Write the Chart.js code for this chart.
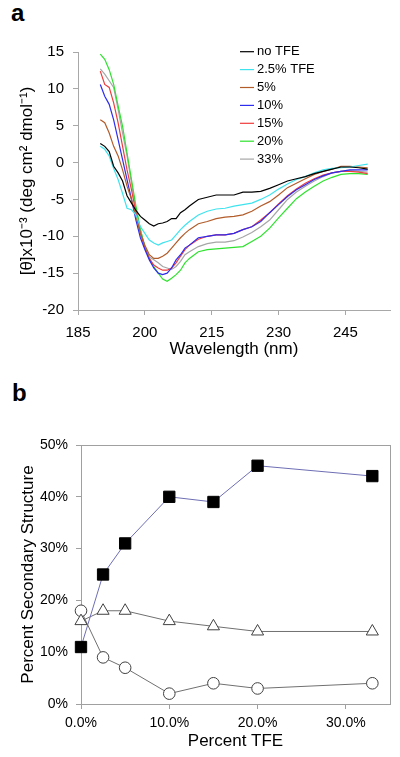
<!DOCTYPE html>
<html><head><meta charset="utf-8">
<script src="https://cdn.jsdelivr.net/npm/chart.js@4/dist/chart.umd.min.js"></script>
<style>
html,body{margin:0;padding:0;background:#fff;width:400px;height:757px;overflow:hidden;position:relative;font-family:"Liberation Sans",Arial,sans-serif;}
.lbl{position:absolute;font-weight:bold;font-size:24px;line-height:1;color:#000;}
#ca{position:absolute;left:0;top:0;}
#cb{position:absolute;left:0;top:380px;}
</style></head><body>
<div class="lbl" style="left:11px;top:1px">a</div>
<div class="lbl" style="left:12px;top:381px">b</div>
<canvas id="ca" width="400" height="380"></canvas>
<canvas id="cb" width="400" height="377"></canvas>
<script>
// ---------- Panel a data: CD spectra ----------
const wavelengths = [190,191,192,193,194,195,196,197,198,199,200,201,202,203,204,205,206,207,208,209,210,
  212,214,216,218,220,222,224,226,228,230,232,234,236,238,240,242,244,246,248,250];
const noTFE = [2.6,2.2,1.5,-0.5,-1.4,-2.5,-4.5,-5.5,-6.5,-7.3,-7.8,-8.3,-8.6,-8.3,-8.2,-8.0,-7.6,-7.6,-6.8,-6.4,-5.9,
  -5.0,-4.7,-4.4,-4.4,-4.4,-4.0,-4.0,-3.9,-3.5,-3.0,-2.5,-2.2,-1.9,-1.5,-1.2,-0.9,-0.6,-0.6,-0.7,-0.9];
const tfe2_5 = [2.2,1.8,0.9,-0.8,-2.3,-4.2,-6.2,-6.4,-7.1,-8.7,-9.6,-10.5,-10.9,-11.2,-10.9,-10.7,-10.5,-9.8,-9.1,-8.5,-8.0,
  -7.1,-6.6,-6.3,-6.2,-5.9,-5.7,-5.5,-5.0,-4.4,-3.6,-2.9,-2.3,-1.9,-1.4,-1.0,-0.8,-0.7,-0.6,-0.4,-0.2];
const tfe5 = [5.8,5.4,4.0,2.2,0.9,-1.0,-3.2,-5.0,-7.3,-9.6,-11.2,-12.5,-13.0,-13.0,-12.7,-12.3,-11.6,-10.9,-10.2,-9.6,-9.1,
  -8.3,-8.0,-7.6,-7.4,-7.3,-7.1,-6.6,-5.9,-5.3,-4.4,-3.4,-2.8,-2.2,-1.6,-1.2,-0.9,-0.5,-0.5,-0.6,-0.7];
const tfe10 = [10.6,9.0,7.9,5.8,3.1,0.4,-2.3,-5.0,-7.8,-10.2,-11.8,-13.2,-14.3,-15.0,-15.2,-15.0,-14.3,-13.2,-12.5,-11.6,-11.2,
  -10.2,-10.0,-9.8,-9.8,-9.6,-9.1,-8.7,-8.0,-6.8,-5.7,-4.6,-3.7,-3.0,-2.3,-1.8,-1.4,-1.2,-1.0,-1.0,-1.0];
const tfe15 = [12.4,10.6,10.2,8.1,5.4,2.2,-1.0,-3.7,-6.8,-9.6,-11.6,-13.0,-13.9,-14.3,-14.6,-14.6,-14.3,-13.6,-12.7,-11.8,-11.2,
  -10.4,-10.0,-9.8,-9.8,-9.6,-9.1,-8.7,-7.8,-6.8,-5.6,-4.5,-3.6,-2.8,-2.2,-1.7,-1.4,-1.2,-1.2,-1.3,-1.5];
const tfe20 = [14.7,14.0,12.6,10.6,7.7,4.9,1.3,-2.3,-5.9,-9.1,-11.4,-13.0,-14.1,-15.0,-15.8,-16.1,-15.7,-15.2,-14.6,-13.6,-13.0,
  -12.1,-11.8,-11.7,-11.6,-11.5,-11.4,-10.7,-10.0,-8.9,-7.5,-6.2,-4.9,-4.0,-3.2,-2.5,-2.0,-1.6,-1.5,-1.5,-1.6];
const tfe33 = [12.7,12.0,11.1,10.2,7.2,4.0,0.9,-2.8,-6.4,-9.1,-11.4,-12.8,-13.2,-13.6,-14.1,-14.3,-14.5,-14.1,-13.4,-12.5,-12.1,
  -11.4,-11.0,-10.8,-10.8,-10.6,-10.1,-9.5,-8.7,-7.8,-6.4,-5.0,-4.0,-3.2,-2.5,-1.9,-1.4,-1.2,-1.1,-1.2,-1.3];
const seriesLabelsA = ['no TFE','2.5% TFE','5%','10%','15%','20%','33%'];
const wavelengthTicks = [185,200,215,230,245];

// ---------- Panel b data: secondary structure ----------
const tfePercent = [0,2.5,5,10,15,20,33];
const helix = [11,25,31,40,39,46,44];
const triangleSeries = [16,18,18,16,15,14,14];
const circleSeries = [18,9,7,2,4,3,4];
const tfeTicks = [0,10,20,30];

const FONT = '"Liberation Sans", Arial, sans-serif';
Chart.defaults.font.family = FONT;
Chart.defaults.color = '#000';

const colorsA = ['#000000','#3fe3ee','#b25c2a','#2d2df0','#f03c3c','#2ee22e','#a6a6a6'];
const seriesA = [noTFE,tfe2_5,tfe5,tfe10,tfe15,tfe20,tfe33];

const legendA = {
  id: 'legendA',
  afterDraw(chart) {
    const ctx = chart.ctx;
    ctx.save();
    ctx.font = '13px ' + FONT;
    ctx.textBaseline = 'middle';
    chart.data.datasets.forEach((ds, i) => {
      const y = 51.7 + i * 17.9;
      ctx.strokeStyle = ds.borderColor; ctx.lineWidth = 1.2;
      ctx.beginPath(); ctx.moveTo(240, y); ctx.lineTo(254, y); ctx.stroke();
      ctx.fillStyle = '#000'; ctx.fillText(ds.label, 257, y);
    });
    ctx.restore();
  }
};

new Chart(document.getElementById('ca'), {
  type: 'line',
  data: {
    datasets: seriesA.map((s, i) => ({
      label: seriesLabelsA[i],
      data: wavelengths.map((w, j) => ({x: w, y: s[j]})),
      borderColor: colorsA[i], borderWidth: 1.2, pointRadius: 0, tension: 0, fill: false
    }))
  },
  options: {
    responsive: false, animation: false, devicePixelRatio: 1,
    layout: {padding: {top: 52, right: 10, left: 0, bottom: 0}},
    plugins: {legend: {display: false}, tooltip: {enabled: false}},
    scales: {
      x: {
        type: 'linear', min: 185, max: 255,
        afterBuildTicks: s => { s.ticks = wavelengthTicks.map(v => ({value: v})); },
        afterFit: s => { s.height = 70; },
        ticks: {padding: 9, font: {size: 15}, color: '#000', maxRotation: 0},
        grid: {drawOnChartArea: false, drawTicks: true, tickLength: 5, color: '#a8a8a8'},
        border: {color: '#a8a8a8'},
        title: {display: true, text: 'Wavelength (nm)', font: {size: 17}, color: '#000', padding: {top: 0, bottom: 20}}
      },
      y: {
        min: -20, max: 15,
        afterFit: s => { s.width = 78; },
        ticks: {stepSize: 5, padding: 9, font: {size: 15}, color: '#000'},
        grid: {drawOnChartArea: false, drawTicks: true, tickLength: 5, color: '#a8a8a8'},
        border: {color: '#a8a8a8'},
        title: {display: true, text: '[θ]x10⁻³ (deg cm² dmol⁻¹)', font: {size: 17}, color: '#000', padding: {top: 17, bottom: 0}}
      }
    }
  },
  plugins: [legendA]
});

const boxB = {
  id: 'boxB',
  beforeDatasetsDraw(chart) {
    const {ctx, chartArea: a} = chart;
    ctx.save();
    ctx.strokeStyle = '#a0a0a0'; ctx.lineWidth = 1;
    ctx.strokeRect(Math.round(a.left) + 0.5, Math.round(a.top) + 0.5, Math.round(a.right - a.left), Math.round(a.bottom - a.top));
    ctx.restore();
  }
};

new Chart(document.getElementById('cb'), {
  type: 'line',
  data: {
    datasets: [
      {label: 'helix', data: tfePercent.map((x, i) => ({x, y: helix[i]})),
       borderColor: '#6e6eb4', borderWidth: 1, pointStyle: 'rect', pointRadius: 8,
       pointBackgroundColor: '#000', pointBorderColor: '#000', pointBorderWidth: 1, tension: 0, clip: false},
      {label: 'triangles', data: tfePercent.map((x, i) => ({x, y: triangleSeries[i]})),
       borderColor: '#707070', borderWidth: 1, pointStyle: 'triangle', pointRadius: 7,
       pointBackgroundColor: '#fff', pointBorderColor: '#404040', pointBorderWidth: 1, tension: 0, clip: false},
      {label: 'circles', data: tfePercent.map((x, i) => ({x, y: circleSeries[i]})),
       borderColor: '#707070', borderWidth: 1, pointStyle: 'circle', pointRadius: 5.8,
       pointBackgroundColor: '#fff', pointBorderColor: '#404040', pointBorderWidth: 1, tension: 0, clip: false}
    ]
  },
  options: {
    responsive: false, animation: false, devicePixelRatio: 1,
    layout: {padding: {top: 65, right: 10, left: 0, bottom: 0}},
    plugins: {legend: {display: false}, tooltip: {enabled: false}},
    scales: {
      x: {
        type: 'linear', min: 0, max: 35,
        afterBuildTicks: s => { s.ticks = tfeTicks.map(v => ({value: v})); },
        afterFit: s => { s.height = 53; },
        ticks: {padding: 6, font: {size: 14}, color: '#000', maxRotation: 0, callback: v => v.toFixed(1) + '%'},
        grid: {drawOnChartArea: false, drawTicks: true, tickLength: 5, color: '#a0a0a0'},
        border: {color: '#a0a0a0'},
        title: {display: true, text: 'Percent TFE', font: {size: 17}, color: '#000', padding: {top: 0, bottom: 5}}
      },
      y: {
        min: 0, max: 50,
        afterFit: s => { s.width = 81; },
        ticks: {stepSize: 10, padding: 8, font: {size: 14}, color: '#000', callback: v => v + '%'},
        grid: {drawOnChartArea: false, drawTicks: true, tickLength: 5, color: '#a0a0a0'},
        border: {color: '#a0a0a0'},
        title: {display: true, text: 'Percent Secondary Structure', font: {size: 17}, color: '#000', padding: {top: 18, bottom: 0}}
      }
    }
  },
  plugins: [boxB]
});
</script>
</body></html>
